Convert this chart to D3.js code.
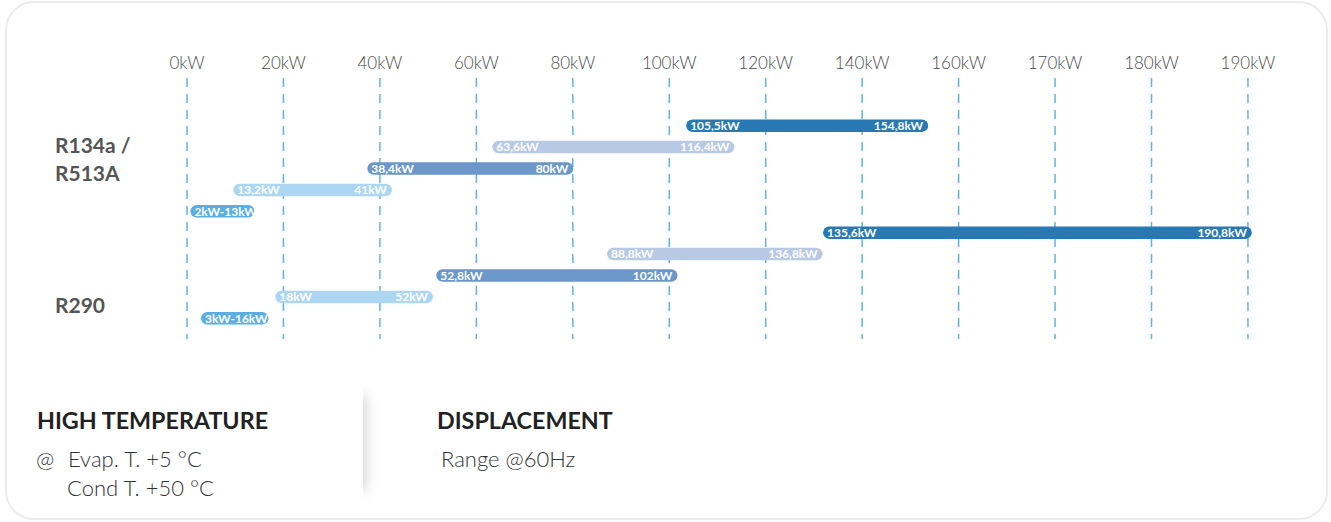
<!DOCTYPE html>
<html>
<head>
  <meta charset="UTF-8">
  <title>Displacement range</title>
  <style>
    body { margin: 0; background: #fff; }
    .tick-label { font-family: Lato, sans-serif; font-size: 17px; font-weight: 300; fill: #4a4a4a; text-anchor: middle; }
    .gas { font-family: Lato, sans-serif; font-size: 21px; font-weight: bold; fill: #555; }
    .bar-label { font-family: Lato, sans-serif; font-size: 12px; font-weight: bold; fill: #fff; }
    .head { font-family: Lato, sans-serif; font-size: 23.3px; font-weight: bold; fill: #222; }
    .note { font-family: Lato, sans-serif; font-size: 22px; font-weight: 300; fill: #333; }
  </style>
</head>
<body>
<svg></svg>
<script src="https://d3js.org/d3.v7.min.js"></script>
<script>

let width = 1331, height = 522;

// axis ticks (not evenly spaced in value, but evenly spaced on the page)
var tickValues = [0, 20, 40, 60, 80, 100, 120, 140, 160, 170, 180, 190];
var tickLabels = ["0kW", "20kW", "40kW", "60kW", "80kW", "100kW", "120kW", "140kW", "160kW", "170kW", "180kW", "190kW"];

// gas groups
var gasNames = ["R134a /", "R513A", "R290"];

// bars, one per row, top to bottom (extent)
var barStart = [103.5, 63.3, 37.4, 9.6, 0.7, 131.9, 87.1, 51.7, 18.3, 2.9];
var barEnd   = [153.7, 113.5, 80.1, 42.5, 14.0, 190.4, 131.8, 101.7, 51.0, 16.9];
var startLabels = ["105,5kW", "63,6kW", "38,4kW", "13,2kW", "2kW-13kW", "135,6kW", "88,8kW", "52,8kW", "18kW", "3kW-16kW"];
var endLabels   = ["154,8kW", "116,4kW", "80kW", "41kW", "", "190,8kW", "136,8kW", "102kW", "52kW", ""];
var barColors = ["#2878b4", "#b8c9e6", "#6b97c9", "#acd6f1", "#5aaee2",
                 "#2878b4", "#b8c9e6", "#6b97c9", "#acd6f1", "#5aaee2"];

let svg = d3.select("svg")
    .attr("width", width)
    .attr("height", height);

var defs = svg.append("defs");
var blur = defs.append("filter").attr("id", "shadow")
    .attr("x", "-30%").attr("y", "-20%").attr("width", "160%").attr("height", "140%");
blur.append("feGaussianBlur").attr("stdDeviation", 7);

// card
svg.append("rect")
    .attr("x", 6).attr("y", 2)
    .attr("width", 1321).attr("height", 517)
    .attr("rx", 28)
    .attr("fill", "#fff")
    .attr("stroke", "#ececec")
    .attr("stroke-width", 2);

// x scale: piecewise linear so each tick sits on its gridline
var x = d3.scaleLinear()
    .domain(tickValues)
    .range(tickValues.map((d, i) => 187 + i * 96.45));

var rows = d3.range(barStart.length);
var y = d3.scaleBand()
    .domain(rows)
    .range([115, 329]);

// gridlines
svg.append("g")
    .selectAll("line")
    .data(tickValues)
    .enter()
    .append("line")
    .attr("x1", d => x(d)).attr("x2", d => x(d))
    .attr("y1", 78).attr("y2", 339)
    .attr("stroke", "#5fb3e6")
    .attr("stroke-width", 1.5)
    .attr("stroke-dasharray", "9,7");

svg.append("g")
    .selectAll("text")
    .data(tickValues)
    .enter()
    .append("text")
    .attr("class", "tick-label")
    .attr("x", d => x(d))
    .attr("y", 69)
    .text((d, i) => tickLabels[i]);

// bars
var barH = 12.5;
var bars = svg.append("g")
    .selectAll("g")
    .data(rows)
    .enter()
    .append("g");

bars.append("rect")
    .attr("x", i => x(barStart[i]))
    .attr("y", i => y(i) + y.bandwidth() / 2 - barH / 2)
    .attr("width", i => x(barEnd[i]) - x(barStart[i]))
    .attr("height", barH)
    .attr("rx", barH / 2)
    .attr("fill", i => barColors[i]);

bars.append("text")
    .attr("class", "bar-label")
    .attr("x", i => x(barStart[i]) + 4)
    .attr("y", i => y(i) + y.bandwidth() / 2 + 4.3)
    .text(i => startLabels[i]);

bars.append("text")
    .attr("class", "bar-label")
    .attr("text-anchor", "end")
    .attr("x", i => x(barEnd[i]) - 5)
    .attr("y", i => y(i) + y.bandwidth() / 2 + 4.3)
    .text(i => endLabels[i]);

// gas labels
svg.append("text").attr("class", "gas").attr("x", 55).attr("y", 153).text(gasNames[0]);
svg.append("text").attr("class", "gas").attr("x", 55).attr("y", 181).text(gasNames[1]);
svg.append("text").attr("class", "gas").attr("x", 55).attr("y", 313).text(gasNames[2]);

// footer: left block with soft shadow on its right edge
svg.append("rect")
    .attr("x", 310).attr("y", 395)
    .attr("width", 56).attr("height", 96)
    .attr("fill", "#000")
    .attr("opacity", 0.16)
    .attr("filter", "url(#shadow)");
svg.append("rect")
    .attr("x", 10).attr("y", 380)
    .attr("width", 353).attr("height", 125)
    .attr("fill", "#fff");

svg.append("text").attr("class", "head").attr("x", 37).attr("y", 429).text("HIGH TEMPERATURE");
svg.append("text").attr("class", "note").attr("x", 36).attr("y", 467).text("@");
svg.append("text").attr("class", "note").attr("x", 68).attr("y", 467).text("Evap. T. +5 °C");
svg.append("text").attr("class", "note").attr("x", 67).attr("y", 496).text("Cond T. +50 °C");

svg.append("text").attr("class", "head").attr("x", 437).attr("y", 429).text("DISPLACEMENT");
svg.append("text").attr("class", "note").attr("x", 441).attr("y", 467).text("Range @60Hz");

</script>
</body>
</html>
